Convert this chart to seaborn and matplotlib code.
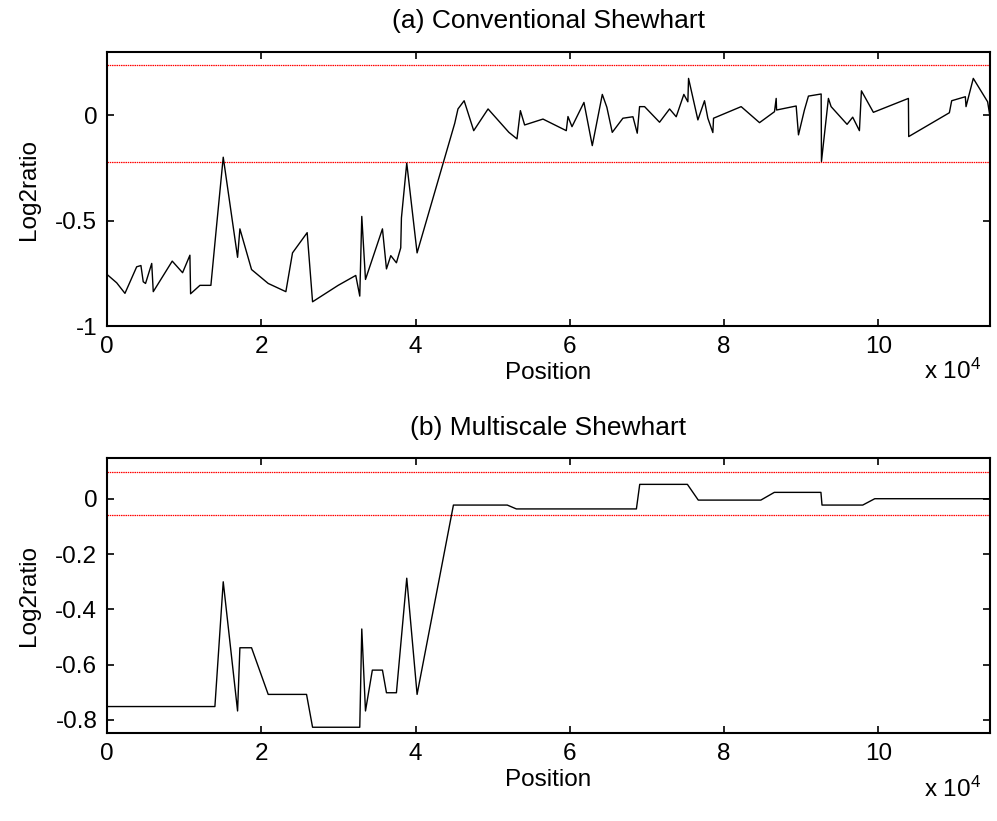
import numpy as np
import pandas as pd
import matplotlib
matplotlib.use("Agg")
import matplotlib.pyplot as plt
import seaborn as sns

# ---------------- data ----------------
conv_pos = [0.00, 0.126, 0.233, 0.385, 0.44, 0.47, 0.50, 0.58, 0.60, 0.846, 0.98, 1.075, 1.084,
            1.205, 1.347, 1.42, 1.507, 1.693, 1.723, 1.874, 2.09, 2.319, 2.405, 2.595, 2.665,
            2.997, 3.225, 3.277, 3.303, 3.351, 3.571, 3.623, 3.679, 3.752, 3.808, 3.817, 3.886,
            4.02, 4.508, 4.55, 4.63, 4.754, 4.94, 5.21, 5.315, 5.359, 5.414, 5.652, 5.954, 5.976,
            6.028, 6.183, 6.291, 6.421, 6.48, 6.55, 6.688, 6.818, 6.874, 6.904, 6.969, 7.163,
            7.293, 7.379, 7.478, 7.53, 7.539, 7.66, 7.746, 7.789, 7.854, 7.863, 8.221, 8.459,
            8.653, 8.675, 8.68, 8.934, 8.964, 9.041, 9.093, 9.258, 9.262, 9.352, 9.387, 9.594,
            9.667, 9.754, 9.780, 9.935, 10.389, 10.393, 10.92, 10.95, 11.127, 11.136, 11.23,
            11.416, 11.447]
conv_val = [-0.755, -0.795, -0.845, -0.719, -0.713, -0.79, -0.798, -0.703, -0.837, -0.692, -0.747,
            -0.664, -0.847, -0.807, -0.807, -0.527, -0.199, -0.674, -0.539, -0.732, -0.798, -0.837,
            -0.653, -0.557, -0.885, -0.807, -0.760, -0.858, -0.48, -0.779, -0.539, -0.729, -0.666,
            -0.700, -0.629, -0.487, -0.227, -0.653, -0.038, 0.030, 0.069, -0.073, 0.030, -0.081,
            -0.112, 0.022, -0.046, -0.018, -0.073, -0.006, -0.054, 0.061, -0.144, 0.099, 0.038,
            -0.081, -0.014, -0.007, -0.085, 0.041, 0.041, -0.033, 0.030, -0.007, 0.099, 0.064,
            0.175, -0.022, 0.069, -0.014, -0.082, -0.014, 0.041, -0.035, 0.017, 0.080, 0.025,
            0.044, -0.093, 0.025, 0.091, 0.101, -0.219, 0.080, 0.041, -0.043, -0.009, -0.073,
            0.116, 0.014, 0.080, -0.101, 0.012, 0.069, 0.088, 0.041, 0.175, 0.064, -0.007]
conv_limits = [0.238, -0.220]

multi_pos = [0, 1.399, 1.507, 1.693, 1.723, 1.874, 2.09, 2.587, 2.665, 3.277, 3.303, 3.351, 3.44,
             3.571, 3.623, 3.752, 3.886, 4.02, 4.491, 5.189, 5.307, 6.863, 6.906, 7.524, 7.665,
             8.476, 8.651, 9.255, 9.269, 9.797, 9.953, 11.447]
multi_val = [-0.752, -0.752, -0.30, -0.768, -0.539, -0.539, -0.708, -0.708, -0.827, -0.827, -0.471,
             -0.768, -0.620, -0.620, -0.702, -0.702, -0.287, -0.708, -0.022, -0.022, -0.036,
             -0.036, 0.053, 0.053, -0.004, -0.004, 0.024, 0.024, -0.022, -0.022, 0.001, 0.001]
multi_limits = [0.097, -0.058]

titles = ["(a) Conventional Shewhart", "(b) Multiscale Shewhart"]
x_ticks = [0, 2, 4, 6, 8, 10]
top_yticks = [-1, -0.5, 0]
top_ylabels = ["-1", "-0.5", "0"]
bot_yticks = [-0.8, -0.6, -0.4, -0.2, 0]
bot_ylabels = ["-0.8", "-0.6", "-0.4", "-0.2", "0"]

# ---------------- style ----------------
sns.set_theme(style="white")
FONT = "Liberation Sans"
plt.rcParams["font.family"] = [FONT, "DejaVu Sans"]
plt.rcParams["mathtext.fontset"] = "custom"
plt.rcParams["mathtext.rm"] = FONT
plt.rcParams["mathtext.default"] = "regular"
plt.rcParams["text.color"] = "black"
plt.rcParams["axes.labelcolor"] = "black"
FS = 17.5
TFS = 19

fig = plt.figure(figsize=(9.97, 8.21), dpi=100)
ax1 = fig.add_axes([0.1073, 0.6029, 0.8857, 0.3337])
ax2 = fig.add_axes([0.1073, 0.1068, 0.8857, 0.3350])

df1 = pd.DataFrame({"Position": np.array(conv_pos) * 1e4, "Log2ratio": conv_val})
df2 = pd.DataFrame({"Position": np.array(multi_pos) * 1e4, "Log2ratio": multi_val})

panels = [
    (ax1, df1, conv_limits, (-1, 0.3), top_yticks, top_ylabels, titles[0], -0.165),
    (ax2, df2, multi_limits, (-0.849, 0.1475), bot_yticks, bot_ylabels, titles[1], -0.205),
]

for ax, df, lims, ylim, yt, ylab, title, exy in panels:
    for lv in lims:
        ax.axhline(lv, color="red", lw=0.9, ls=(0, (1.2, 0.6)), zorder=1)
    sns.lineplot(data=df, x="Position", y="Log2ratio", ax=ax, sort=False,
                 estimator=None, color="black", lw=1.0, zorder=3)
    ax.set_xlim(0, max(df["Position"]))
    ax.set_ylim(*ylim)
    ax.set_xticks(np.array(x_ticks) * 1e4)
    ax.set_xticklabels([str(t) for t in x_ticks], fontsize=FS)
    ax.set_yticks(yt)
    ax.set_yticklabels(ylab, fontsize=FS)
    ax.tick_params(direction="in", length=5, width=1.2, top=True, right=True,
                   bottom=True, left=True, pad=7, colors="black")
    for s in ax.spines.values():
        s.set_visible(True)
        s.set_color("black")
        s.set_linewidth(1.5)
    ax.set_xlabel("Position", fontsize=FS, labelpad=3, color="black")
    ax.set_ylabel("Log2ratio", fontsize=FS, labelpad=11, color="black")
    ax.set_title(title, fontsize=TFS, pad=17, color="black")
    ax.text(0.957, exy, r"x 10$^{4}$", transform=ax.transAxes,
            fontsize=FS, ha="center", va="center", color="black")

fig.savefig("out.png", dpi=100)
